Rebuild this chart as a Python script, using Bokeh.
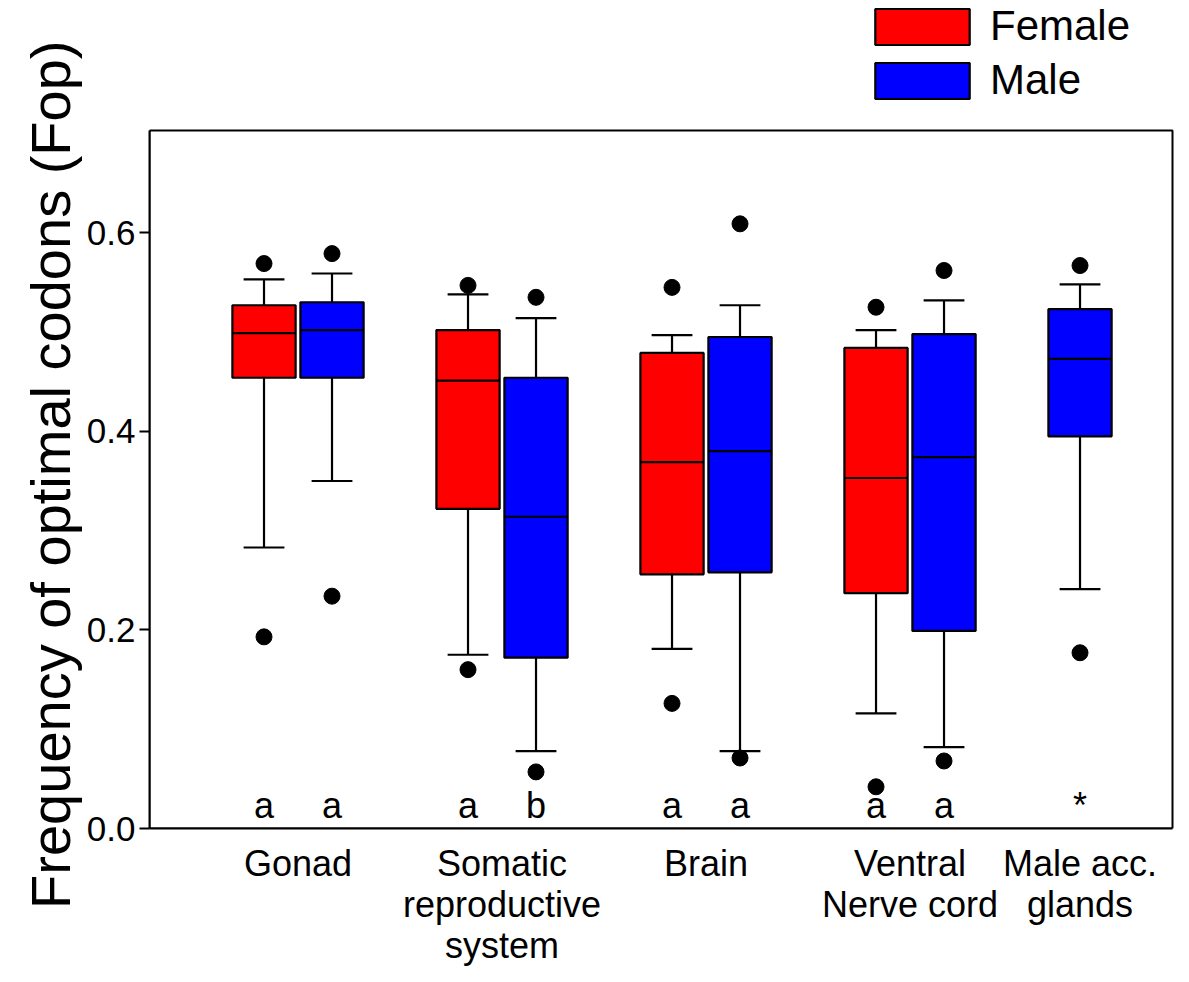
from bokeh.plotting import figure
from bokeh.models import (Range1d, FixedTicker, NumeralTickFormatter, Legend,
                          LegendItem, ColumnDataSource, Title)
from bokeh.core.properties import value
from bokeh.embed import file_html
from bokeh.resources import INLINE

# ---------------- data ----------------
tissues = ["Gonad", "Somatic\nreproductive\nsystem", "Brain",
           "Ventral\nNerve cord", "Male acc.\nglands"]
has_female = [True, True, True, True, False]
series = ["Female", "Male"]
colors = ["#FF0000", "#0000FF"]

# Female (first four tissues)
f_low_whisker = [0.283, 0.175, 0.181, 0.116]
f_q1 = [0.454, 0.322, 0.256, 0.237]
f_median = [0.499, 0.451, 0.369, 0.353]
f_q3 = [0.527, 0.502, 0.479, 0.484]
f_up_whisker = [0.553, 0.538, 0.497, 0.502]
f_out_low = [0.193, 0.160, 0.126, 0.042]
f_out_high = [0.569, 0.547, 0.545, 0.525]
f_letters = ["a", "a", "a", "a"]

# Male (all five tissues)
m_low_whisker = [0.350, 0.078, 0.078, 0.082, 0.241]
m_q1 = [0.454, 0.172, 0.258, 0.199, 0.395]
m_median = [0.502, 0.314, 0.380, 0.374, 0.473]
m_q3 = [0.530, 0.454, 0.495, 0.498, 0.523]
m_up_whisker = [0.559, 0.514, 0.527, 0.532, 0.548]
m_out_low = [0.234, 0.057, 0.071, 0.068, 0.177]
m_out_high = [0.579, 0.535, 0.609, 0.562, 0.567]
m_letters = ["a", "b", "a", "a", "*"]

y_ticks = [0.0, 0.2, 0.4, 0.6]
Y_MAX = 0.703
y_label = "Frequency of optimal codons (Fop)"

# ---------------- layout helpers ----------------
FONT = "Liberation Sans"
BOX_W = 0.93
CAP_W = 0.6
X_MIN, X_MAX = -1.684, 13.36
f_x = [3 * i for i in range(len(tissues)) if has_female[i]]
m_x = [3 * i + (1 if has_female[i] else 0) for i in range(len(tissues))]
group_x = [3 * i + (0.5 if has_female[i] else 0) for i in range(len(tissues))]

# The frame reaches the top of the page so the legend can sit above the
# plotting box; the box itself is drawn as an outline up to Y_MAX.
FRAME_TOP_PX = 130.0
FRAME_H = 698.0
y_view_max = Y_MAX * (FRAME_H + FRAME_TOP_PX) / FRAME_H

p = figure(width=1189, height=982, output_backend="svg", toolbar_location=None,
           x_range=Range1d(X_MIN, X_MAX + 2 / 68), y_range=Range1d(0, y_view_max),
           min_border_left=149, min_border_right=15, min_border_top=0,
           min_border_bottom=154, title=None)
p.xgrid.visible = False
p.ygrid.visible = False
p.outline_line_color = None

# plotting box
p.quad(left=[X_MIN], right=[X_MAX], bottom=[0], top=[Y_MAX], fill_color=None,
       line_color="black", line_width=2)


def draw(xs, low, q1, med, q3, up, olow, ohigh, color):
    src = ColumnDataSource(dict(x=xs, low=low, q1=q1, med=med, q3=q3, up=up,
                                olow=olow, ohigh=ohigh,
                                cl=[x - CAP_W / 2 for x in xs],
                                cr=[x + CAP_W / 2 for x in xs],
                                bl=[x - BOX_W / 2 for x in xs],
                                br=[x + BOX_W / 2 for x in xs]))
    p.segment(x0="x", y0="q3", x1="x", y1="up", source=src, line_color="black", line_width=2.2)
    p.segment(x0="x", y0="q1", x1="x", y1="low", source=src, line_color="black", line_width=2.2)
    p.segment(x0="cl", y0="up", x1="cr", y1="up", source=src, line_color="black", line_width=2.2)
    p.segment(x0="cl", y0="low", x1="cr", y1="low", source=src, line_color="black", line_width=2.2)
    box = p.vbar(x="x", width=BOX_W, bottom="q1", top="q3", source=src,
                 fill_color=color, line_color="black", line_width=2.2)
    p.segment(x0="bl", y0="med", x1="br", y1="med", source=src, line_color="black", line_width=2.2)
    p.scatter(x="x", y="olow", source=src, size=16, color="black")
    p.scatter(x="x", y="ohigh", source=src, size=16, color="black")
    return box


fbox = draw(f_x, f_low_whisker, f_q1, f_median, f_q3, f_up_whisker,
            f_out_low, f_out_high, colors[0])
mbox = draw(m_x, m_low_whisker, m_q1, m_median, m_q3, m_up_whisker,
            m_out_low, m_out_high, colors[1])

# significance letters
letters_src = ColumnDataSource(dict(x=f_x + m_x, t=f_letters + m_letters))
p.text(x="x", y=0.003, text="t", source=letters_src, text_align="center",
       text_baseline="bottom", text_font=value(FONT), text_font_size="36px",
       text_color="black")

# axes
p.yaxis.bounds = (0, Y_MAX)
p.yaxis.ticker = FixedTicker(ticks=y_ticks)
p.yaxis.formatter = NumeralTickFormatter(format="0.0")
p.yaxis.minor_tick_line_color = None
p.yaxis.major_tick_out = 10
p.yaxis.major_tick_in = 0
p.yaxis.major_tick_line_width = 2
p.yaxis.axis_line_width = 2
p.yaxis.major_label_text_font = FONT
p.yaxis.major_label_text_font_size = "35px"
p.yaxis.major_label_text_color = "black"
p.yaxis.major_label_standoff = 4

# y-axis title, placed as a left-side title so that it can extend above the box
ytitle = Title(text=y_label, align="right", offset=40, standoff=4,
               text_font=FONT, text_font_size="56px", text_font_style="normal",
               text_color="black")
p.add_layout(ytitle, "left")

p.xaxis.bounds = (X_MIN, X_MAX)
p.xaxis.ticker = FixedTicker(ticks=group_x)
p.xaxis.major_label_overrides = {gx: t for gx, t in zip(group_x, tissues)}
p.xaxis.major_tick_line_color = None
p.xaxis.minor_tick_line_color = None
p.xaxis.axis_line_width = 2
p.xaxis.major_label_text_font = FONT
p.xaxis.major_label_text_font_size = "36px"
p.xaxis.major_label_text_line_height = 1.0
p.xaxis.major_label_text_color = "black"
p.xaxis.major_label_standoff = 8

legend = Legend(items=[LegendItem(label=series[0], renderers=[fbox]),
                       LegendItem(label=series[1], renderers=[mbox])],
                location=(714, 724), orientation="vertical",
                glyph_width=118, glyph_height=45, label_height=45,
                label_text_font=FONT, label_text_font_size="42px",
                label_text_color="black",
                label_standoff=9, spacing=6, padding=0, margin=0,
                border_line_color=None, background_fill_alpha=0)
p.add_layout(legend, "center")

open("out.html", "w").write(file_html(p, INLINE))
